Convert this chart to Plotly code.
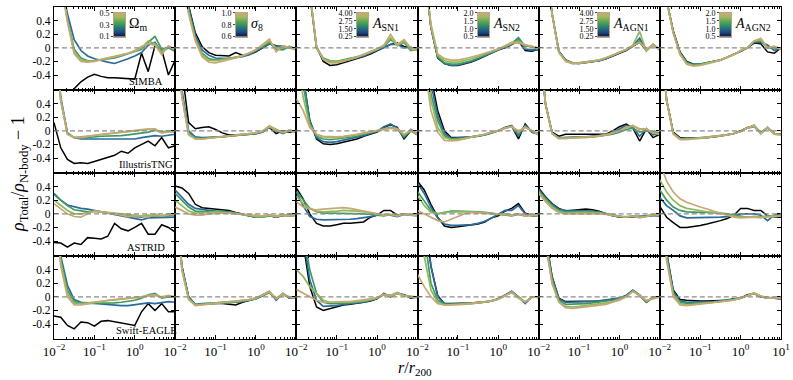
import numpy as np
import plotly.graph_objects as go
from plotly.subplots import make_subplots

# radii r/r200 (log spaced sampling of the profiles)
R = [0.01, 0.0147, 0.0215, 0.0316, 0.0464, 0.0681, 0.1, 0.147, 0.215, 0.316,
     0.464, 0.681, 1.0, 1.47, 2.15, 3.16, 4.64, 6.81, 10.0]

# each panel: [fiducial(black), low -> high parameter value]
# ---- SIMBA ----
simba_om = [
    [-1.2, -0.95, -0.75, -0.6, -0.5, -0.43, -0.39, -0.42, -0.44, -0.44, -0.45, -0.46, -0.46, -0.08, -0.35, 0.03, -0.03, -0.4, -0.18],
    [2.0, 1.0, 0.5, 0.12, -0.04, -0.12, -0.16, -0.19, -0.21, -0.23, -0.2, -0.16, -0.12, -0.07, 0.04, 0.08, -0.06, 0.0, -0.05],
    [2.0, 1.0, 0.42, -0.02, -0.15, -0.19, -0.19, -0.18, -0.17, -0.15, -0.12, -0.09, -0.06, -0.02, 0.08, 0.17, -0.02, 0.01, -0.05],
    [2.0, 1.0, 0.4, -0.06, -0.18, -0.2, -0.19, -0.17, -0.15, -0.13, -0.11, -0.08, -0.05, 0.0, 0.1, 0.06, -0.06, 0.02, -0.03],
    [2.0, 1.0, 0.38, -0.09, -0.2, -0.21, -0.2, -0.18, -0.16, -0.14, -0.11, -0.08, -0.04, 0.02, 0.06, 0.04, -0.1, 0.03, -0.02],
]
simba_s8 = [
    [2.0, 1.2, 0.62, 0.22, 0.02, -0.07, -0.11, -0.12, -0.12, -0.07, -0.11, -0.1, -0.06, 0.0, 0.06, 0.03, 0.0, 0.02, -0.02],
    [2.0, 1.2, 0.6, 0.18, -0.03, -0.11, -0.15, -0.16, -0.16, -0.14, -0.13, -0.1, -0.05, 0.0, 0.06, 0.02, 0.03, 0.0, -0.02],
    [2.0, 1.1, 0.55, 0.14, -0.08, -0.16, -0.18, -0.17, -0.16, -0.14, -0.12, -0.08, -0.04, 0.02, 0.08, -0.02, -0.03, 0.02, -0.03],
    [2.0, 1.1, 0.52, 0.12, -0.1, -0.18, -0.19, -0.18, -0.16, -0.14, -0.11, -0.08, -0.03, 0.03, 0.1, 0.0, 0.0, 0.01, -0.02],
    [2.0, 1.1, 0.5, 0.1, -0.13, -0.21, -0.22, -0.2, -0.17, -0.15, -0.12, -0.08, -0.03, 0.05, 0.13, -0.06, 0.03, 0.0, -0.03],
]
simba_asn1 = [
    [2.0, 1.5, 0.8, 0.02, -0.2, -0.26, -0.25, -0.22, -0.2, -0.17, -0.13, -0.09, -0.04, 0.0, 0.05, 0.07, 0.02, 0.0, -0.03],
    [2.0, 1.5, 0.8, 0.0, -0.17, -0.21, -0.21, -0.19, -0.18, -0.15, -0.12, -0.08, -0.04, 0.0, 0.05, 0.05, 0.0, 0.01, -0.04],
    [2.0, 1.5, 0.8, 0.0, -0.15, -0.19, -0.2, -0.18, -0.16, -0.14, -0.11, -0.07, -0.03, 0.02, 0.12, 0.04, 0.08, -0.04, -0.02],
    [2.0, 1.5, 0.82, 0.01, -0.16, -0.2, -0.2, -0.19, -0.17, -0.14, -0.1, -0.06, -0.02, 0.03, 0.15, 0.03, 0.1, -0.02, -0.03],
    [2.0, 1.5, 0.85, 0.02, -0.17, -0.22, -0.22, -0.2, -0.17, -0.14, -0.1, -0.06, -0.02, 0.04, 0.2, 0.05, 0.12, 0.0, -0.04],
]
simba_asn2 = [
    [2.0, 1.2, 0.3, -0.15, -0.23, -0.26, -0.26, -0.24, -0.21, -0.17, -0.12, -0.08, -0.03, 0.0, 0.05, 0.1, -0.04, -0.05, -0.02],
    [2.0, 1.2, 0.3, -0.14, -0.23, -0.26, -0.25, -0.23, -0.2, -0.16, -0.12, -0.08, -0.03, 0.0, 0.05, 0.12, -0.02, -0.03, -0.03],
    [2.0, 1.2, 0.3, -0.13, -0.22, -0.24, -0.24, -0.22, -0.19, -0.15, -0.11, -0.07, -0.02, 0.02, 0.06, 0.15, 0.02, 0.02, -0.03],
    [2.0, 1.2, 0.32, -0.11, -0.19, -0.21, -0.21, -0.19, -0.16, -0.13, -0.09, -0.06, -0.02, 0.02, 0.07, 0.1, 0.04, 0.02, -0.01],
    [2.0, 1.2, 0.35, -0.09, -0.16, -0.18, -0.18, -0.16, -0.14, -0.11, -0.08, -0.05, -0.02, 0.03, 0.08, 0.07, 0.05, 0.02, 0.0],
]
simba_agn1 = [
    [2.0, 1.2, 0.5, -0.05, -0.18, -0.22, -0.23, -0.22, -0.2, -0.19, -0.16, -0.12, -0.08, -0.04, 0.02, 0.08, -0.04, 0.05, -0.03],
    [2.0, 1.2, 0.5, -0.05, -0.18, -0.23, -0.23, -0.22, -0.21, -0.19, -0.16, -0.12, -0.08, -0.03, 0.03, 0.14, -0.03, 0.04, -0.02],
    [2.0, 1.2, 0.5, -0.06, -0.19, -0.23, -0.22, -0.21, -0.2, -0.18, -0.15, -0.11, -0.07, -0.03, 0.03, 0.1, -0.04, 0.05, -0.03],
    [2.0, 1.2, 0.5, -0.06, -0.19, -0.22, -0.22, -0.21, -0.2, -0.18, -0.15, -0.11, -0.07, -0.02, 0.04, 0.24, -0.05, 0.05, -0.03],
    [2.0, 1.2, 0.5, -0.07, -0.2, -0.23, -0.23, -0.22, -0.2, -0.18, -0.15, -0.11, -0.07, -0.03, 0.03, 0.08, -0.02, 0.04, -0.03],
]
simba_agn2 = [
    [1.5, 0.7, 0.25, -0.06, -0.2, -0.24, -0.24, -0.22, -0.2, -0.18, -0.14, -0.1, -0.05, 0.0, 0.07, 0.06, -0.06, -0.08, 0.0],
    [1.5, 0.7, 0.24, -0.07, -0.21, -0.25, -0.24, -0.22, -0.2, -0.18, -0.14, -0.1, -0.05, 0.0, 0.08, 0.08, 0.04, -0.04, 0.0],
    [1.5, 0.7, 0.23, -0.08, -0.22, -0.25, -0.24, -0.22, -0.2, -0.18, -0.14, -0.1, -0.05, 0.0, 0.09, 0.1, 0.0, 0.0, -0.01],
    [1.5, 0.7, 0.22, -0.09, -0.23, -0.26, -0.25, -0.23, -0.21, -0.18, -0.14, -0.1, -0.04, 0.0, 0.1, 0.12, 0.0, 0.02, -0.02],
    [1.5, 0.7, 0.22, -0.1, -0.24, -0.27, -0.26, -0.24, -0.21, -0.18, -0.14, -0.1, -0.04, 0.0, 0.1, 0.14, 0.0, 0.02, -0.02],
]

# ---- IllustrisTNG ----
tng_om = [
    [0.12, -0.25, -0.42, -0.48, -0.47, -0.48, -0.45, -0.42, -0.38, -0.36, -0.3, -0.33, -0.25, -0.2, -0.15, -0.22, -0.1, -0.25, -0.22],
    [1.5, 0.5, -0.03, -0.1, -0.12, -0.12, -0.12, -0.12, -0.13, -0.13, -0.13, -0.12, -0.12, -0.1, -0.08, -0.07, -0.08, -0.06, -0.05],
    [1.5, 0.45, -0.04, -0.1, -0.1, -0.1, -0.09, -0.08, -0.08, -0.07, -0.07, -0.06, -0.05, -0.04, -0.02, 0.01, -0.02, 0.0, -0.02],
    [1.5, 0.45, -0.05, -0.1, -0.09, -0.08, -0.07, -0.06, -0.05, -0.04, -0.03, -0.02, -0.01, 0.0, 0.02, 0.03, -0.03, 0.0, 0.0],
    [1.5, 0.45, -0.05, -0.1, -0.1, -0.08, -0.06, -0.05, -0.04, -0.03, -0.02, -0.01, 0.0, 0.02, 0.03, 0.02, -0.03, -0.02, 0.0],
]
tng_s8 = [
    [2.0, 0.9, 0.12, 0.03, 0.05, 0.06, 0.02, -0.03, -0.06, -0.06, -0.06, -0.05, -0.04, -0.01, 0.05, -0.04, 0.0, -0.02, 0.0],
    [1.5, 0.6, 0.0, -0.09, -0.1, -0.1, -0.09, -0.09, -0.08, -0.07, -0.06, -0.06, -0.04, -0.02, 0.06, 0.0, -0.04, 0.0, -0.01],
    [1.5, 0.55, -0.03, -0.1, -0.11, -0.1, -0.1, -0.09, -0.08, -0.07, -0.06, -0.05, -0.04, -0.01, 0.07, 0.02, -0.03, 0.01, -0.02],
    [1.5, 0.5, -0.05, -0.12, -0.12, -0.11, -0.1, -0.09, -0.08, -0.07, -0.06, -0.05, -0.03, -0.01, 0.06, 0.0, -0.02, 0.0, -0.02],
    [1.5, 0.5, -0.06, -0.12, -0.12, -0.11, -0.1, -0.09, -0.08, -0.07, -0.06, -0.05, -0.03, 0.0, 0.07, 0.02, -0.03, 0.01, -0.01],
]
tng_asn1 = [
    [2.0, 0.8, 0.15, -0.12, -0.19, -0.2, -0.19, -0.17, -0.15, -0.12, -0.08, -0.05, -0.02, 0.05, 0.09, 0.05, -0.12, 0.0, -0.06],
    [2.0, 0.8, 0.15, -0.1, -0.16, -0.17, -0.16, -0.14, -0.12, -0.1, -0.07, -0.04, -0.01, 0.06, 0.1, 0.04, -0.1, 0.02, -0.05],
    [2.0, 0.7, 0.1, -0.08, -0.12, -0.13, -0.12, -0.11, -0.1, -0.08, -0.05, -0.03, 0.0, 0.03, 0.05, 0.02, -0.08, 0.0, -0.04],
    [1.2, 0.5, 0.08, -0.05, -0.09, -0.1, -0.1, -0.09, -0.08, -0.06, -0.04, -0.02, 0.0, 0.03, 0.04, 0.03, -0.06, 0.01, -0.05],
    [0.47, 0.3, 0.05, -0.05, -0.08, -0.09, -0.09, -0.08, -0.07, -0.05, -0.03, -0.01, 0.0, 0.02, 0.04, 0.03, -0.05, 0.0, -0.05],
]
tng_asn2 = [
    [2.0, 1.5, 0.8, 0.3, 0.0, -0.1, -0.1, -0.1, -0.09, -0.08, -0.06, -0.03, 0.0, 0.05, 0.07, -0.12, 0.1, -0.02, -0.05],
    [2.0, 1.4, 0.7, 0.22, -0.04, -0.11, -0.11, -0.1, -0.09, -0.08, -0.06, -0.03, 0.0, 0.05, 0.08, -0.08, 0.08, -0.02, -0.05],
    [2.0, 1.3, 0.55, 0.15, -0.07, -0.12, -0.12, -0.11, -0.09, -0.08, -0.06, -0.03, 0.0, 0.04, 0.07, -0.05, 0.07, 0.0, -0.04],
    [2.0, 1.2, 0.45, 0.05, -0.1, -0.13, -0.13, -0.11, -0.09, -0.08, -0.05, -0.02, 0.0, 0.04, 0.06, -0.02, 0.06, 0.0, -0.05],
    [2.0, 1.0, 0.3, -0.02, -0.14, -0.15, -0.14, -0.12, -0.1, -0.08, -0.05, -0.02, 0.0, 0.04, 0.06, 0.0, 0.05, 0.0, -0.06],
]
tng_agn1 = [
    [1.5, 0.4, -0.02, -0.08, -0.05, -0.05, -0.05, -0.04, -0.04, -0.05, -0.05, 0.0, 0.06, 0.1, 0.04, -0.15, 0.03, -0.1, -0.05],
    [1.5, 0.4, -0.03, -0.1, -0.1, -0.09, -0.09, -0.09, -0.08, -0.08, -0.06, -0.03, 0.03, 0.08, 0.05, -0.08, 0.03, -0.06, -0.04],
    [1.5, 0.4, -0.04, -0.11, -0.1, -0.1, -0.1, -0.09, -0.09, -0.08, -0.07, -0.05, -0.02, 0.02, 0.04, -0.02, 0.0, -0.02, -0.03],
    [1.5, 0.4, -0.04, -0.11, -0.11, -0.1, -0.1, -0.09, -0.09, -0.08, -0.06, -0.03, 0.0, 0.05, 0.07, 0.02, 0.02, -0.03, -0.05],
    [1.5, 0.4, -0.04, -0.11, -0.11, -0.1, -0.1, -0.1, -0.09, -0.08, -0.06, -0.03, 0.0, 0.05, 0.08, 0.03, 0.03, -0.03, -0.05],
]
tng_agn2 = [
    [1.5, 0.45, -0.02, -0.1, -0.11, -0.11, -0.1, -0.1, -0.09, -0.07, -0.06, -0.04, 0.0, 0.05, 0.07, -0.04, 0.05, -0.04, -0.05],
    [1.5, 0.45, -0.03, -0.11, -0.11, -0.11, -0.1, -0.1, -0.09, -0.08, -0.06, -0.04, -0.01, 0.04, 0.08, -0.03, 0.05, -0.04, -0.05],
    [1.5, 0.45, -0.04, -0.12, -0.12, -0.11, -0.11, -0.1, -0.09, -0.08, -0.06, -0.04, -0.01, 0.04, 0.06, -0.02, 0.04, -0.04, -0.05],
    [1.5, 0.45, -0.04, -0.12, -0.12, -0.12, -0.11, -0.1, -0.09, -0.08, -0.06, -0.04, -0.01, 0.05, 0.07, -0.04, 0.05, -0.05, -0.06],
    [1.5, 0.45, -0.05, -0.13, -0.13, -0.12, -0.11, -0.1, -0.09, -0.08, -0.06, -0.04, -0.01, 0.04, 0.08, -0.04, 0.05, -0.05, -0.06],
]

# ---- ASTRID ----
astrid_om = [
    [-0.42, -0.43, -0.49, -0.43, -0.45, -0.35, -0.36, -0.37, -0.33, -0.14, -0.22, -0.25, -0.2, -0.14, -0.3, -0.3, -0.16, -0.2, -0.27],
    [0.3, 0.2, 0.13, 0.1, 0.08, 0.07, 0.05, 0.03, 0.02, 0.0, -0.02, -0.04, -0.06, -0.09, -0.06, -0.06, -0.05, -0.06, -0.05],
    [0.28, 0.2, 0.12, 0.06, 0.04, 0.03, 0.04, 0.03, 0.02, 0.01, 0.0, -0.02, -0.04, -0.05, -0.03, -0.03, -0.02, -0.03, -0.01],
    [0.2, 0.12, 0.05, 0.0, 0.0, 0.02, 0.04, 0.03, 0.02, 0.0, -0.01, -0.02, -0.03, -0.03, -0.02, -0.02, -0.03, 0.0, -0.01],
    [0.15, 0.08, 0.0, -0.04, -0.05, 0.0, 0.04, 0.03, 0.02, 0.0, -0.02, -0.04, -0.03, -0.03, -0.05, 0.0, -0.03, -0.02, 0.0],
]
astrid_s8 = [
    [0.41, 0.38, 0.3, 0.14, 0.09, 0.08, 0.06, 0.06, 0.05, 0.02, 0.0, -0.03, -0.05, -0.04, -0.03, -0.05, -0.02, -0.03, -0.02],
    [0.35, 0.25, 0.14, 0.08, 0.06, 0.05, 0.04, 0.04, 0.03, 0.01, -0.01, -0.03, -0.05, -0.04, -0.02, -0.05, -0.03, 0.0, -0.02],
    [0.3, 0.2, 0.1, 0.04, 0.03, 0.03, 0.04, 0.04, 0.03, 0.01, -0.01, -0.03, -0.05, -0.05, -0.03, -0.04, -0.02, -0.03, -0.02],
    [0.2, 0.12, 0.04, 0.01, 0.01, 0.02, 0.03, 0.02, 0.02, 0.0, -0.01, -0.02, -0.04, -0.04, -0.02, -0.03, -0.01, -0.02, -0.03],
    [0.1, 0.05, 0.0, -0.02, -0.02, 0.0, 0.01, 0.01, 0.01, 0.0, -0.01, -0.02, -0.03, -0.03, -0.02, -0.04, -0.02, -0.03, -0.01],
]
astrid_asn1 = [
    [0.38, 0.22, 0.0, -0.14, -0.18, -0.18, -0.16, -0.14, -0.14, -0.13, -0.12, -0.05, -0.02, 0.05, 0.05, -0.02, 0.0, -0.02, -0.02],
    [0.32, 0.12, -0.04, -0.08, -0.09, -0.09, -0.08, -0.08, -0.08, -0.07, -0.06, -0.04, -0.02, -0.01, -0.02, -0.04, -0.01, -0.02, -0.03],
    [0.33, 0.2, 0.08, 0.03, 0.01, 0.01, 0.01, 0.01, 0.01, 0.0, 0.0, -0.01, -0.02, -0.03, -0.01, -0.02, 0.0, -0.02, -0.02],
    [0.26, 0.15, 0.08, 0.04, 0.03, 0.03, 0.04, 0.05, 0.05, 0.04, 0.03, 0.01, -0.01, -0.02, -0.01, -0.03, 0.0, -0.02, -0.01],
    [0.18, 0.1, 0.07, 0.06, 0.07, 0.08, 0.09, 0.09, 0.08, 0.06, 0.04, 0.02, 0.0, -0.02, -0.01, -0.03, 0.0, -0.02, -0.02],
]
astrid_asn2 = [
    [0.48, 0.35, 0.14, -0.05, -0.18, -0.2, -0.19, -0.18, -0.17, -0.15, -0.12, -0.06, -0.03, 0.04, 0.08, 0.15, 0.01, -0.02, -0.03],
    [0.45, 0.3, 0.1, -0.06, -0.15, -0.17, -0.17, -0.17, -0.16, -0.14, -0.11, -0.06, -0.01, 0.05, 0.05, 0.12, 0.0, -0.03, -0.03],
    [0.33, 0.18, 0.05, 0.0, 0.02, 0.04, 0.04, 0.04, 0.04, 0.03, 0.02, 0.01, 0.0, -0.01, -0.03, -0.01, -0.03, -0.02, -0.03],
    [0.27, 0.12, 0.02, 0.0, 0.02, 0.03, 0.03, 0.03, 0.03, 0.02, 0.01, 0.0, 0.0, -0.01, -0.02, 0.0, -0.03, -0.02, -0.02],
    [0.05, 0.0, -0.05, -0.1, -0.12, -0.08, -0.03, 0.0, 0.02, 0.02, 0.01, 0.0, 0.0, 0.0, -0.02, 0.0, -0.03, -0.02, -0.03],
]
astrid_agn1 = [
    [0.38, 0.25, 0.15, 0.08, 0.04, 0.05, 0.06, 0.07, 0.06, 0.04, 0.0, -0.03, -0.05, -0.05, -0.04, -0.05, -0.04, -0.02, -0.03],
    [0.36, 0.24, 0.14, 0.07, 0.05, 0.05, 0.05, 0.05, 0.04, 0.03, 0.0, -0.03, -0.04, -0.05, -0.04, -0.04, -0.03, -0.02, -0.03],
    [0.34, 0.22, 0.12, 0.05, 0.03, 0.03, 0.04, 0.04, 0.03, 0.02, 0.0, -0.02, -0.04, -0.05, -0.03, -0.05, -0.03, -0.02, -0.02],
    [0.32, 0.2, 0.1, 0.03, 0.01, 0.02, 0.02, 0.02, 0.02, 0.01, 0.0, -0.02, -0.04, -0.04, -0.03, -0.05, -0.04, -0.01, -0.02],
    [0.3, 0.18, 0.08, 0.02, 0.0, 0.0, 0.01, 0.01, 0.01, 0.0, -0.01, -0.02, -0.04, -0.05, -0.03, -0.06, -0.04, -0.01, -0.02],
]
astrid_agn2 = [
    [0.11, -0.05, -0.13, -0.2, -0.2, -0.19, -0.17, -0.15, -0.13, -0.1, -0.07, -0.02, 0.08, 0.08, 0.05, 0.05, -0.03, -0.05, -0.05],
    [0.24, 0.12, 0.05, -0.03, -0.06, -0.06, -0.06, -0.06, -0.05, -0.05, -0.04, -0.02, 0.0, 0.0, 0.0, -0.02, -0.1, -0.02, 0.0],
    [0.35, 0.2, 0.1, 0.05, 0.03, 0.02, 0.02, 0.02, 0.02, 0.01, 0.0, -0.02, -0.04, -0.05, -0.04, -0.05, -0.03, -0.04, -0.03],
    [0.5, 0.32, 0.2, 0.12, 0.08, 0.06, 0.05, 0.03, 0.02, 0.0, -0.02, -0.04, -0.05, -0.05, -0.04, -0.05, -0.04, -0.04, -0.03],
    [0.75, 0.48, 0.32, 0.22, 0.17, 0.13, 0.1, 0.07, 0.04, 0.01, -0.03, -0.05, -0.06, -0.05, -0.05, -0.06, -0.04, -0.04, -0.03],
]

# ---- Swift-EAGLE ----
eagle_om = [
    [-0.28, -0.3, -0.42, -0.47, -0.37, -0.38, -0.43, -0.36, -0.35, -0.37, -0.38, -0.4, -0.42, -0.22, -0.1, -0.2, -0.1, -0.22, -0.22],
    [1.5, 0.6, 0.17, -0.04, -0.08, -0.09, -0.1, -0.1, -0.11, -0.12, -0.13, -0.13, -0.12, -0.1, -0.09, -0.1, -0.08, -0.07, -0.08],
    [1.5, 0.55, 0.1, -0.07, -0.1, -0.1, -0.1, -0.09, -0.09, -0.09, -0.08, -0.07, -0.05, -0.02, 0.03, 0.05, -0.02, 0.0, -0.01],
    [1.5, 0.5, 0.05, -0.1, -0.1, -0.09, -0.08, -0.07, -0.06, -0.05, -0.04, -0.03, -0.02, 0.0, 0.02, 0.03, -0.01, 0.01, 0.0],
    [1.5, 0.45, 0.0, -0.12, -0.12, -0.1, -0.08, -0.06, -0.05, -0.04, -0.03, -0.02, -0.01, 0.0, 0.01, 0.02, 0.0, 0.02, 0.0],
]
eagle_s8 = [
    [1.5, 0.45, 0.0, -0.12, -0.11, -0.1, -0.1, -0.1, -0.11, -0.12, -0.08, -0.06, -0.03, 0.02, 0.07, -0.04, 0.04, -0.02, -0.02],
    [1.5, 0.45, 0.0, -0.11, -0.1, -0.1, -0.09, -0.08, -0.08, -0.08, -0.07, -0.05, -0.02, 0.03, 0.08, -0.05, 0.05, -0.02, -0.02],
    [1.5, 0.42, -0.02, -0.12, -0.11, -0.1, -0.1, -0.09, -0.09, -0.08, -0.07, -0.05, -0.03, 0.02, 0.06, -0.03, 0.04, -0.01, -0.02],
    [1.5, 0.4, -0.03, -0.12, -0.11, -0.1, -0.1, -0.09, -0.08, -0.07, -0.06, -0.04, -0.02, 0.03, 0.07, -0.02, 0.05, -0.01, -0.01],
    [1.5, 0.4, -0.04, -0.13, -0.12, -0.11, -0.1, -0.09, -0.08, -0.07, -0.06, -0.04, -0.02, 0.03, 0.08, -0.03, 0.03, 0.0, -0.02],
]
eagle_asn1 = [
    [2.0, 0.8, 0.15, -0.15, -0.2, -0.17, -0.15, -0.12, -0.11, -0.1, -0.08, -0.06, -0.03, 0.05, 0.0, 0.05, 0.03, -0.02, 0.0],
    [2.0, 0.9, 0.25, -0.05, -0.14, -0.14, -0.13, -0.11, -0.1, -0.09, -0.08, -0.05, -0.02, 0.04, 0.02, 0.06, 0.03, -0.01, -0.01],
    [2.0, 0.95, 0.4, 0.05, -0.08, -0.1, -0.1, -0.1, -0.09, -0.08, -0.07, -0.05, -0.02, 0.03, 0.01, 0.05, 0.02, 0.0, -0.01],
    [0.4, 0.3, 0.15, 0.05, -0.05, -0.08, -0.08, -0.08, -0.08, -0.07, -0.06, -0.04, -0.02, 0.03, 0.02, 0.06, 0.02, 0.0, -0.01],
    [0.11, 0.05, 0.0, -0.05, -0.08, -0.08, -0.07, -0.07, -0.07, -0.06, -0.05, -0.03, -0.01, 0.04, 0.01, 0.05, 0.01, 0.0, 0.0],
]
eagle_asn2 = [
    [2.0, 1.2, 0.45, 0.02, -0.1, -0.1, -0.1, -0.1, -0.09, -0.08, -0.08, -0.06, -0.03, 0.02, 0.08, -0.01, -0.08, 0.0, -0.01],
    [2.0, 1.2, 0.45, 0.0, -0.1, -0.11, -0.1, -0.1, -0.09, -0.09, -0.08, -0.06, -0.03, 0.02, 0.08, 0.0, -0.1, 0.0, -0.01],
    [2.0, 0.9, 0.2, -0.05, -0.11, -0.11, -0.11, -0.1, -0.1, -0.09, -0.08, -0.06, -0.03, 0.02, 0.07, 0.0, -0.08, 0.0, 0.0],
    [1.5, 0.6, 0.1, -0.08, -0.12, -0.12, -0.11, -0.1, -0.1, -0.09, -0.08, -0.06, -0.03, 0.02, 0.06, -0.01, -0.08, 0.0, -0.01],
    [0.33, 0.15, 0.0, -0.1, -0.12, -0.12, -0.12, -0.11, -0.1, -0.09, -0.08, -0.06, -0.04, 0.02, 0.07, -0.02, -0.07, -0.01, 0.0],
]
eagle_agn1 = [
    [2.0, 0.9, 0.3, -0.02, -0.07, -0.07, -0.07, -0.07, -0.06, -0.06, -0.05, -0.04, -0.02, 0.02, 0.09, 0.02, -0.08, -0.01, 0.0],
    [2.0, 0.9, 0.28, -0.03, -0.08, -0.08, -0.08, -0.07, -0.07, -0.06, -0.05, -0.04, -0.02, 0.02, 0.1, 0.03, -0.07, 0.0, 0.0],
    [2.0, 0.85, 0.25, -0.05, -0.11, -0.11, -0.1, -0.1, -0.09, -0.08, -0.07, -0.05, -0.03, 0.01, 0.09, 0.02, -0.08, -0.01, 0.0],
    [2.0, 0.8, 0.2, -0.07, -0.14, -0.15, -0.14, -0.13, -0.12, -0.11, -0.09, -0.07, -0.04, 0.0, 0.08, 0.02, -0.06, -0.02, 0.0],
    [2.0, 0.8, 0.2, -0.08, -0.16, -0.17, -0.16, -0.15, -0.14, -0.13, -0.11, -0.08, -0.05, 0.0, 0.08, 0.02, -0.05, -0.03, 0.0],
]
eagle_agn2 = [
    [1.8, 0.65, 0.1, -0.04, -0.05, -0.06, -0.06, -0.06, -0.06, -0.05, -0.05, -0.03, -0.02, 0.03, 0.05, 0.0, -0.02, -0.02, -0.03],
    [1.8, 0.65, 0.08, -0.06, -0.08, -0.08, -0.08, -0.07, -0.07, -0.06, -0.05, -0.03, -0.02, 0.02, 0.05, 0.0, -0.01, -0.02, -0.03],
    [1.8, 0.6, 0.05, -0.08, -0.1, -0.1, -0.09, -0.09, -0.08, -0.07, -0.06, -0.04, -0.02, 0.02, 0.05, 0.01, -0.02, -0.01, -0.02],
    [1.8, 0.55, 0.03, -0.1, -0.12, -0.11, -0.1, -0.1, -0.09, -0.08, -0.06, -0.04, -0.02, 0.02, 0.06, 0.01, -0.02, -0.02, -0.02],
    [1.8, 0.55, 0.0, -0.12, -0.13, -0.12, -0.11, -0.1, -0.09, -0.08, -0.06, -0.05, -0.02, 0.02, 0.05, 0.01, -0.02, -0.02, -0.02],
]

SIMS = ["SIMBA", "IllustrisTNG", "ASTRID", "Swift-EAGLE"]
PANELS = [
    [simba_om, simba_s8, simba_asn1, simba_asn2, simba_agn1, simba_agn2],
    [tng_om, tng_s8, tng_asn1, tng_asn2, tng_agn1, tng_agn2],
    [astrid_om, astrid_s8, astrid_asn1, astrid_asn2, astrid_agn1, astrid_agn2],
    [eagle_om, eagle_s8, eagle_asn1, eagle_asn2, eagle_agn1, eagle_agn2],
]
LINE_COLORS = ["#000000", "#2b6a9a", "#3c9a62", "#8fb95c", "#c8a872"]

PARAM_LABELS = ["Ω<sub>m</sub>", "<i>σ</i><sub>8</sub>", "<i>A</i><sub>SN1</sub>",
                "<i>A</i><sub>SN2</sub>", "<i>A</i><sub>AGN1</sub>", "<i>A</i><sub>AGN2</sub>"]
CB_RANGES = [(0.1, 0.5), (0.6, 1.0), (0.25, 4.0), (0.5, 2.0), (0.25, 4.0), (0.5, 2.0)]
CB_TICKS = [[0.1, 0.3, 0.5], [0.6, 0.8, 1.0], [0.25, 1.5, 2.75, 4.0],
            [0.5, 1.0, 1.5, 2.0], [0.25, 1.5, 2.75, 4.0], [0.5, 1.0, 1.5, 2.0]]
CB_TICKTEXT = [["0.1", "0.3", "0.5"], ["0.6", "0.8", "1.0"], ["0.25", "1.50", "2.75", "4.00"],
               ["0.5", "1.0", "1.5", "2.0"], ["0.25", "1.50", "2.75", "4.00"], ["0.5", "1.0", "1.5", "2.0"]]
CSCALE = [[0.0, "#0b1840"], [0.2, "#1f4f88"], [0.42, "#2a8570"], [0.62, "#56a650"],
          [0.82, "#a3b764"], [1.0, "#cdab76"]]

XTICK_VALS = [0.01, 0.1, 1, 10]
XTICK_TEXT = ["10<sup>−2</sup>", "10<sup>−1</sup>", "10<sup>0</sup>", "10<sup>1</sup>"]
YTICK_VALS = [-0.4, -0.2, 0, 0.2, 0.4]
YTICK_TEXT = ["-0.4", "-0.2", "0", "0.2", "0.4"]

W, H = 793, 380
ML, MR, MT, MB = 54, 12, 3, 41
FONT = "Liberation Serif"


def px(x):
    return (x - ML) / (W - ML - MR)


def py(y):
    return 1 - (y - MT) / (H - MT - MB)


fig = make_subplots(rows=4, cols=6, horizontal_spacing=0, vertical_spacing=0)

for i, row in enumerate(PANELS):
    for j, lines in enumerate(row):
        for k, vals in enumerate(lines):
            fig.add_trace(go.Scatter(
                x=R, y=vals, mode="lines", showlegend=False, hoverinfo="skip",
                line=dict(color=LINE_COLORS[k], width=1.5 if k == 0 else 1.7),
            ), row=i + 1, col=j + 1)
        fig.add_hline(y=0, line=dict(color="#8c8c8c", width=1.3, dash="5px,3px"),
                      layer="above", row=i + 1, col=j + 1)

minor_vals = [m * 10.0 ** e for e in (-2, -1, 0) for m in range(2, 10)]
fig.update_xaxes(
    type="log", range=[-2, 1], tickvals=XTICK_VALS, ticktext=XTICK_TEXT[:3] + [""],
    ticks="inside", ticklen=4, tickwidth=1, tickcolor="black", mirror="allticks",
    showline=True, linecolor="black", linewidth=1.2, showgrid=False, zeroline=False,
    minor=dict(tickvals=minor_vals, ticks="inside", ticklen=2, tickwidth=0.8, tickcolor="black"),
    tickfont=dict(family=FONT, size=13, color="black"), showticklabels=False,
)
fig.update_xaxes(showticklabels=True, row=4)
fig.update_xaxes(ticktext=XTICK_TEXT, row=4, col=6)
fig.update_yaxes(
    range=[-0.62, 0.6], tickvals=YTICK_VALS, ticktext=YTICK_TEXT,
    ticks="inside", ticklen=4, tickwidth=1, tickcolor="black", mirror="allticks",
    showline=True, linecolor="black", linewidth=1.2, showgrid=False, zeroline=False,
    tickfont=dict(family=FONT, size=11.5, color="black"), showticklabels=False,
)
fig.update_yaxes(showticklabels=True, col=1)

# simulation names in first column
for i, name in enumerate(SIMS):
    n = i * 6 + 1
    ref = "x domain" if n == 1 else f"x{n} domain"
    yref = "y domain" if n == 1 else f"y{n} domain"
    fig.add_annotation(text=name, xref=ref, yref=yref, x=0.76, y=0.1,
                       xanchor="center", yanchor="middle", showarrow=False,
                       font=dict(family=FONT, size=10.5, color="black"))

# small colour bars in the top row
bar_left = [114, 236, 357, 478, 598, 720]
bar_w = 11
for j in range(6):
    n = 25 + j
    lo, hi = CB_RANGES[j]
    levels = np.linspace(lo, hi, 64)
    fig.add_trace(go.Heatmap(z=[[v] for v in levels], x=[0], y=levels, colorscale=CSCALE,
                             showscale=False, hoverinfo="skip", xaxis=f"x{n}", yaxis=f"y{n}"))
    fig.update_layout({
        f"xaxis{n}": dict(domain=[px(bar_left[j]), px(bar_left[j] + bar_w)], anchor=f"y{n}",
                          range=[-0.5, 0.5], showticklabels=False, ticks="", showgrid=False,
                          zeroline=False, showline=True, mirror=True, linecolor="#b8a680",
                          linewidth=1),
        f"yaxis{n}": dict(domain=[py(33), py(9)], anchor=f"x{n}", range=[lo, hi],
                          tickvals=CB_TICKS[j], ticktext=CB_TICKTEXT[j], ticks="outside",
                          ticklen=2, tickwidth=0.8, showgrid=False, zeroline=False,
                          showline=True, mirror=True, linecolor="#b8a680", linewidth=1,
                          tickfont=dict(family=FONT, size=8, color="black")),
    })
    fig.add_annotation(text=PARAM_LABELS[j], xref="paper", yref="paper",
                       x=px(bar_left[j] + bar_w + 2), y=py(21), xanchor="left", yanchor="middle",
                       showarrow=False, font=dict(family=FONT, size=14, color="black"))

# axis titles
fig.add_annotation(text="<i>ρ</i><sub>Total</sub>/<i>ρ</i><sub>N-body</sub> − 1",
                   xref="paper", yref="paper", x=px(20), y=py(172), textangle=-90,
                   xanchor="center", yanchor="middle", showarrow=False,
                   font=dict(family=FONT, size=18, color="black"))
fig.add_annotation(text="<i>r</i>/<i>r</i><sub>200</sub>", xref="paper", yref="paper",
                   x=px(415), y=py(369), xanchor="center", yanchor="middle",
                   showarrow=False, font=dict(family=FONT, size=16, color="black"))

fig.update_layout(
    width=W, height=H, margin=dict(l=ML, r=MR, t=MT, b=MB),
    plot_bgcolor="white", paper_bgcolor="white", showlegend=False,
    font=dict(family=FONT, color="black"),
)

# drop the default page margin so the figure sits at the window origin
fig.write_html("out.html", config={"displayModeBar": False},
               post_script="document.body.style.margin='0';")
